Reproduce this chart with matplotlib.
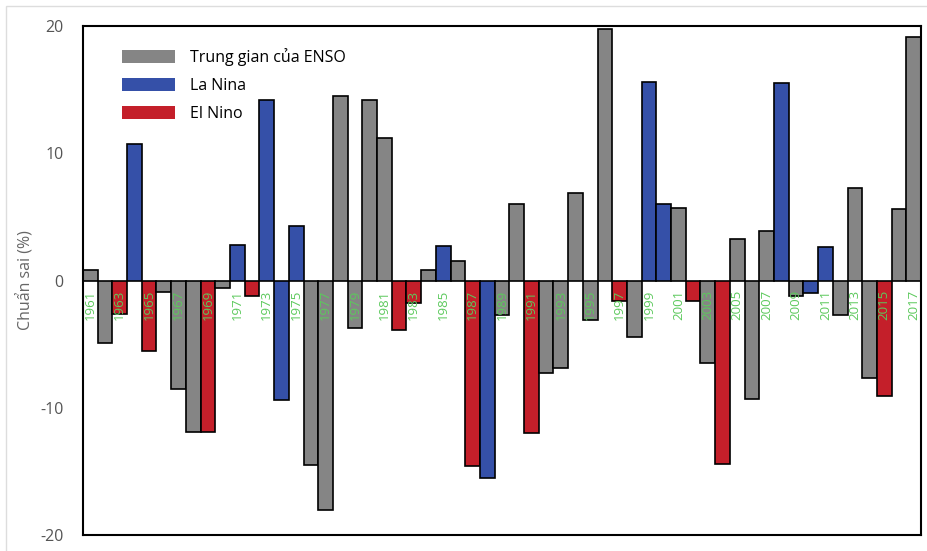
import matplotlib.pyplot as plt
from matplotlib.patches import Patch, Rectangle

years = list(range(1961, 2018))
values = [0.8, -4.9, -2.6, 10.7, -5.5, -0.9, -8.5, -11.9, -11.9, -0.6,
          2.8, -1.2, 14.2, -9.4, 4.3, -14.5, -18.0, 14.5, -3.7, 14.2,
          11.2, -3.9, -1.8, 0.8, 2.7, 1.5, -14.6, -15.5, -2.7, 6.0,
          -12.0, -7.3, -6.9, 6.9, -3.1, 19.8, -1.6, -4.4, 15.6, 6.0,
          5.7, -1.6, -6.5, -14.4, 3.3, -9.3, 3.9, 15.5, -1.2, -1.0,
          2.6, -2.7, 7.3, -7.7, -9.1, 5.6, 19.1]
# N = trung gian, L = La Nina, E = El Nino
phases = ['N', 'N', 'E', 'L', 'E', 'N', 'N', 'N', 'E', 'N',
          'L', 'E', 'L', 'L', 'L', 'N', 'N', 'N', 'N', 'N',
          'N', 'E', 'E', 'N', 'L', 'N', 'E', 'L', 'N', 'N',
          'E', 'N', 'N', 'N', 'N', 'N', 'E', 'N', 'L', 'L',
          'N', 'E', 'N', 'E', 'N', 'N', 'N', 'L', 'N', 'L',
          'L', 'N', 'N', 'N', 'E', 'N', 'N']
legend_labels = ['Trung gian của ENSO', 'La Nina', 'El Nino']

colors = {'N': '#858585', 'L': '#3550a8', 'E': '#c41f2a'}

plt.rcParams['font.family'] = ['Open Sans', 'DejaVu Sans']
plt.rcParams['axes.unicode_minus'] = False

fig = plt.figure(figsize=(9.28, 5.51), dpi=100)
ax = fig.add_axes([0.0894, 0.029, 0.9031, 0.9238])

x = list(range(len(years)))
ax.bar(x, values, width=1.0, color=[colors[p] for p in phases],
       edgecolor='black', linewidth=1.2, zorder=2)

# year labels along the zero line, every other year
for i, yr in enumerate(years):
    if (yr - 1961) % 2 == 0:
        ax.text(i, -0.7, str(yr), rotation=90, ha='center', va='top',
                color='#5cc95c', fontsize=9.5, zorder=3)

ax.set_xlim(-0.5, len(years) - 0.5)
ax.set_ylim(-20, 20)
ax.set_yticks([-20, -10, 0, 10, 20])
ax.set_xticks([])
ax.tick_params(axis='y', length=0, pad=14, labelsize=11.5, labelcolor='#555555')
ax.set_ylabel('Chuẩn sai (%)', color='#666666', fontsize=11.5, labelpad=4)
for s in ax.spines.values():
    s.set_linewidth(1.5)

handles = [Patch(facecolor=colors[k], edgecolor='none') for k in ['N', 'L', 'E']]
ax.legend(handles, legend_labels, loc='upper left', bbox_to_anchor=(0.03, 0.985),
          frameon=False, fontsize=11.5, handlelength=3.3, handleheight=0.9,
          labelspacing=0.75, handletextpad=0.9)

# thin light frame around the picture
fig.patches.append(Rectangle((0.007, -0.01), 1.0, 0.999, transform=fig.transFigure,
                             fill=False, edgecolor='#dddddd', linewidth=1))

fig.savefig('out.png', dpi=100)
